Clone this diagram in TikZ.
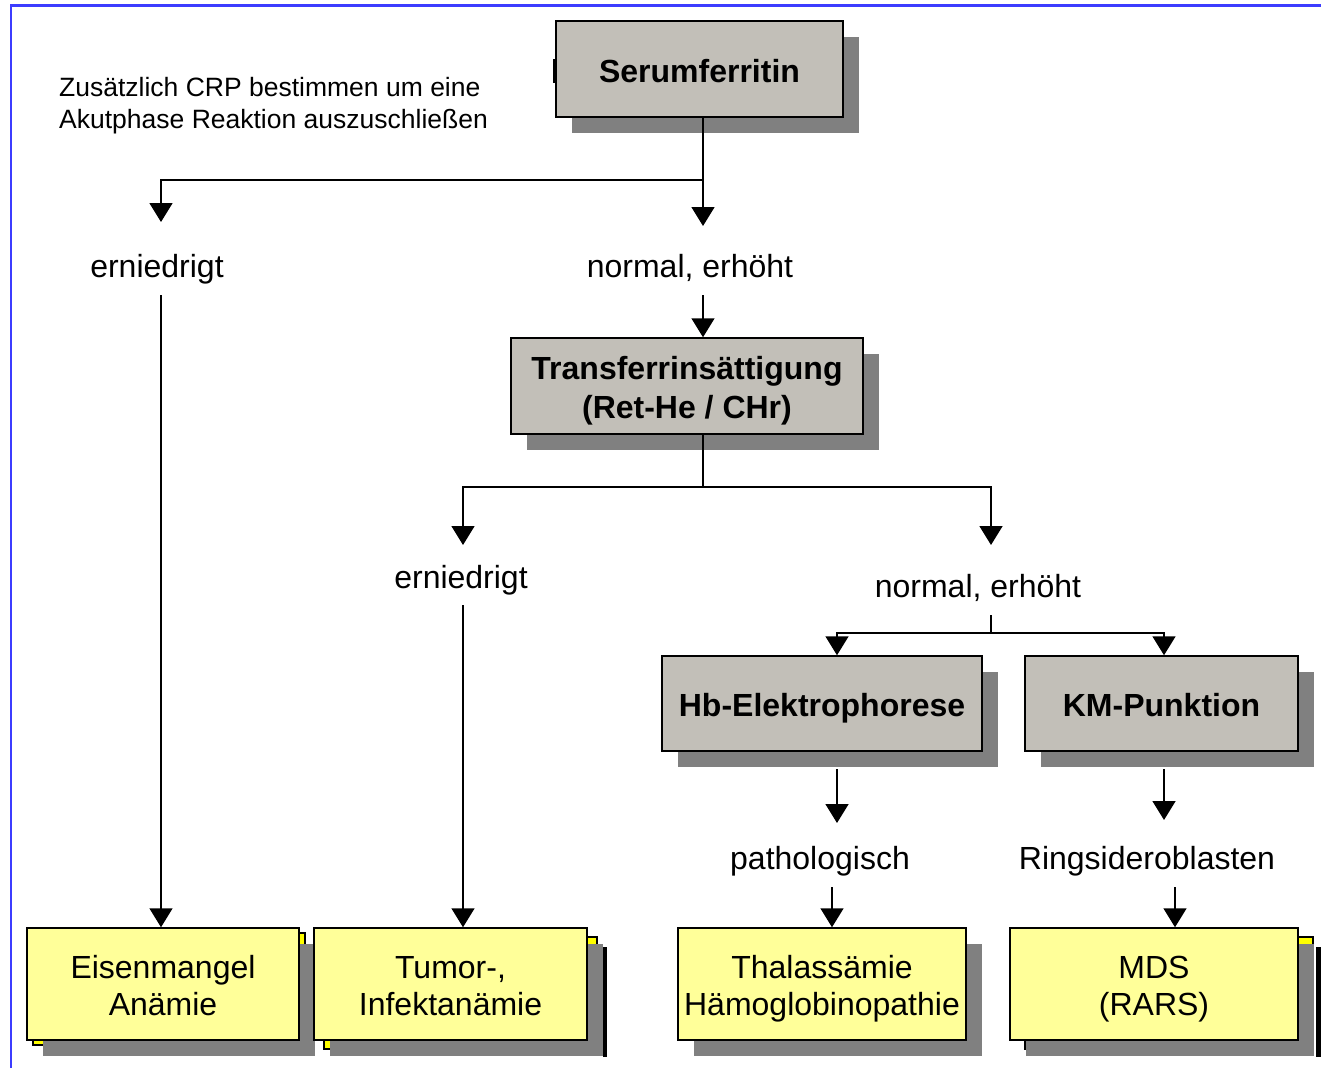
\documentclass[tikz,border=0pt]{standalone}
\usepackage{fontspec}
\setmainfont{Liberation Sans}
\usetikzlibrary{arrows.meta,shadows}
\definecolor{boxgray}{RGB}{194,191,184}
\definecolor{shadowgray}{RGB}{128,128,128}
\definecolor{boxyellow}{RGB}{255,255,153}
\definecolor{backyellow}{RGB}{255,255,0}
\definecolor{frameblue}{RGB}{60,60,255}
\newcommand\tst{\rule{0pt}{33pt}}
\newcommand\bst{\rule[-7pt]{0pt}{7pt}}
\tikzset{
  graybox/.style={draw=black, line width=1.5pt, fill=boxgray, inner sep=0pt, align=center,
    font=\fontsize{32}{39}\selectfont\bfseries,
    general shadow={fill=shadowgray, shadow xshift=16pt, shadow yshift=-16pt}},
  yellowbox/.style={draw=black, line width=1.5pt, fill=boxyellow, inner sep=0pt, align=center,
    font=\fontsize{32}{37}\selectfont,
    general shadow={fill=shadowgray, shadow xshift=16pt, shadow yshift=-16pt}},
  lbl/.style={inner sep=0pt, text height=23pt, text depth=7pt, font=\fontsize{32}{37}\selectfont},
  arr/.style={line width=1.6pt, -{Triangle[width=23pt,length=19pt]}},
  ln/.style={line width=1.6pt},
  backbox/.style={draw=black, line width=1.5pt, fill=backyellow}
}
\begin{document}
\begin{tikzpicture}[x=1pt,y=-1pt]
\useasboundingbox (0,0) rectangle (1321,1068);
% frame
\draw[frameblue, line width=2.5pt] (11,1068) -- (11,5.5) -- (1321,5.5);
% back artifacts
\draw[backbox] (33,933) rectangle (305,1045);
\draw[backbox] (324,937) rectangle (597,1049);
\draw[backbox] (1025,937) rectangle (1313,1049);
\fill[black] (603,947) rectangle (607,1057);
\fill[black] (1316,947) rectangle (1321,1057);
\fill[black] (553,59) rectangle (556,83);
% boxes
\node[graybox, minimum width=287pt, minimum height=96pt] (ser) at (699.5,69) {\tst Serumferritin\bst};
\node[graybox, minimum width=352pt, minimum height=96pt] (tsat) at (687,386) {\tst Transferrinsättigung\\(Ret-He / CHr)\bst};
\node[graybox, minimum width=320pt, minimum height=95pt] (hb) at (822,703.5) {\tst Hb-Elektrophorese\bst};
\node[graybox, minimum width=273pt, minimum height=95pt] (km) at (1161.5,703.5) {\tst KM-Punktion\bst};
\node[yellowbox, minimum width=272pt, minimum height=112pt] (eis) at (163,984) {\tst Eisenmangel\\Anämie\bst};
\node[yellowbox, minimum width=273pt, minimum height=112pt] (tum) at (450.5,984) {\tst Tumor-,\\Infektanämie\bst};
\node[yellowbox, minimum width=288pt, minimum height=112pt] (tha) at (822,984) {\tst Thalassämie\\Hämoglobinopathie\bst};
\node[yellowbox, minimum width=288pt, minimum height=112pt] (mds) at (1154,984) {\tst MDS\\(RARS)\bst};
% labels
\node[inner sep=0pt, align=left, anchor=west, font=\fontsize{26.5}{32}\selectfont] (note) at (59,106) {Zusätzlich CRP bestimmen um eine\\Akutphase Reaktion auszuschließen};
\node[lbl] (e1) at (157,269) {erniedrigt};
\node[lbl] (n1) at (690,269) {normal, erhöht};
\node[lbl] (e2) at (461,580) {erniedrigt};
\node[lbl] (n2) at (978,589) {normal, erhöht};
\node[lbl] (pat) at (820,861) {pathologisch};
\node[lbl] (ring) at (1147,861) {Ringsideroblasten};
% coordinates
\coordinate (j1) at (703,180);
\coordinate (a1) at (161,222);
\coordinate (a2) at (703,226);
\coordinate (s1) at (161,295);
\coordinate (s2) at (703,295);
\coordinate (j2) at (703,487);
\coordinate (a3) at (463,545);
\coordinate (a4) at (991,545);
\coordinate (s3) at (463,605);
\coordinate (s4) at (991,615);
\coordinate (j3) at (991,633);
\coordinate (h1) at (837,633);
\coordinate (h2) at (1164,633);
\coordinate (b1) at (837,769);
\coordinate (a5) at (837,823);
\coordinate (b2) at (1164,769);
\coordinate (a6) at (1164,820);
\coordinate (s5) at (832,887);
\coordinate (s6) at (1175,887);
% connectors
\draw[arr] (j1 |- ser.south) -- (a2);
\draw[arr] (j1) -| (a1);
\draw[arr] (s1) -- (s1 |- eis.north);
\draw[arr] (s2) -- (s2 |- tsat.north);
\draw[ln] (j2 |- tsat.south) -- (j2);
\draw[arr] (j2) -| (a3);
\draw[arr] (j2) -| (a4);
\draw[arr] (s3) -- (s3 |- tum.north);
\draw[ln] (s4) -- (j3);
\draw[arr] (j3) -| (h1 |- hb.north);
\draw[arr] (j3) -| (h2 |- km.north);
\draw[arr] (b1) -- (a5);
\draw[arr] (b2) -- (a6);
\draw[arr] (s5) -- (s5 |- tha.north);
\draw[arr] (s6) -- (s6 |- mds.north);
\end{tikzpicture}
\end{document}
